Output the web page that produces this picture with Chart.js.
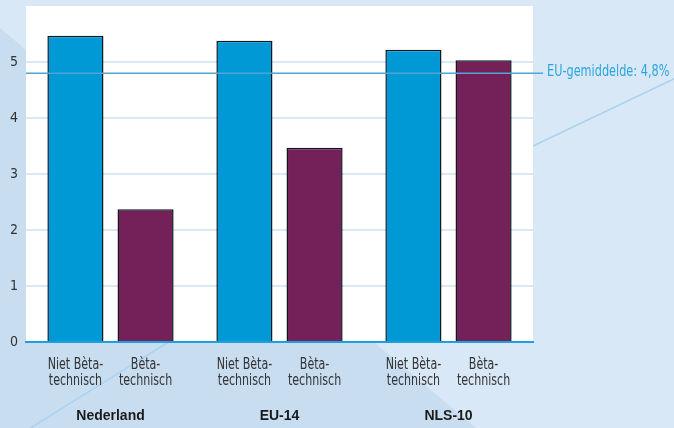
<!DOCTYPE html>
<html lang="nl">
<head>
  <meta charset="UTF-8" />
  <title>Bèta-technisch</title>
  <script src="https://cdn.jsdelivr.net/npm/chart.js"></script>
  <style>
    html, body { margin: 0; padding: 0; background: #d9e8f6; }
    .wrap { width: 674px; height: 428px; position: relative; }
  </style>
</head>
<body>
  <div class="wrap">
    <canvas id="grafiek"></canvas>
  </div>

  <script>
    const groepen = ["Nederland", "EU-14", "NLS-10"];
    const reeksen = ["Niet Bèta-technisch", "Bèta-technisch"];
    const nietBeta = [5.47, 5.38, 5.22];
    const beta = [2.37, 3.47, 5.03];
    const euGemiddelde = 4.8;
    const euLabel = "EU-gemiddelde: 4,8%";
    const subLabels = [["Niet Bèta-", "technisch"], ["Bèta-", "technisch"]];

    const smal = "'DejaVu Sans Condensed', 'Liberation Sans', sans-serif";
    Chart.defaults.font.family = smal;
    Chart.defaults.color = "#333333";

    // smalle tekst: horizontaal iets samengedrukt
    function smalleTekst(ctx, txt, x, y, sx) {
      ctx.save();
      ctx.translate(x, y);
      ctx.scale(sx, 1);
      ctx.fillText(txt, 0, 0);
      ctx.restore();
    }

    // achtergrond, lijn EU-gemiddelde en labels onder de staven
    const decor = {
      id: "decor",
      beforeDraw(chart) {
        const ctx = chart.ctx, a = chart.chartArea;
        ctx.save();
        ctx.fillStyle = "#d9e8f6";
        ctx.fillRect(0, 0, chart.width, chart.height);
        ctx.fillStyle = "#c9ddf1";
        ctx.beginPath();
        ctx.moveTo(0, 28);
        ctx.lineTo(476, 428);
        ctx.lineTo(0, 428);
        ctx.closePath();
        ctx.fill();
        ctx.strokeStyle = "#a9d3ef";
        ctx.lineWidth = 1.5;
        ctx.beginPath();
        ctx.moveTo(24, 432);
        ctx.lineTo(175, 338);
        ctx.moveTo(a.right, 146);
        ctx.lineTo(676, 78);
        ctx.stroke();
        ctx.fillStyle = "#ffffff";
        ctx.fillRect(a.left, a.top, a.right - a.left, a.bottom - a.top);
        ctx.restore();
      },
      afterDatasetsDraw(chart) {
        const ctx = chart.ctx, a = chart.chartArea;
        const y = chart.scales.y.getPixelForValue(euGemiddelde);
        ctx.save();
        ctx.strokeStyle = "#4ea6d4";
        ctx.lineWidth = 1.5;
        ctx.beginPath();
        ctx.moveTo(a.left, y);
        ctx.lineTo(a.right + 10, y);
        ctx.stroke();
        ctx.fillStyle = "#2aa5df";
        ctx.font = "15.5px " + smal;
        ctx.textAlign = "left";
        ctx.textBaseline = "alphabetic";
        smalleTekst(ctx, euLabel, a.right + 14, y + 2.5, 0.81);

        ctx.fillStyle = "#333333";
        ctx.font = "15px " + smal;
        ctx.textAlign = "center";
        reeksen.forEach((r, i) => {
          chart.getDatasetMeta(i).data.forEach(bar => {
            smalleTekst(ctx, subLabels[i][0], bar.x, a.bottom + 27, 0.82);
            smalleTekst(ctx, subLabels[i][1], bar.x, a.bottom + 43, 0.82);
          });
        });
        ctx.restore();
      }
    };

    new Chart(document.getElementById("grafiek"), {
      type: "bar",
      data: {
        labels: groepen,
        datasets: [
          { label: reeksen[0], data: nietBeta, backgroundColor: "#0099d6" },
          { label: reeksen[1], data: beta, backgroundColor: "#74215a" }
        ]
      },
      options: {
        responsive: true,
        maintainAspectRatio: false,
        animation: false,
        layout: { padding: { top: 6, right: 141, left: 0, bottom: 0 } },
        datasets: {
          bar: {
            categoryPercentage: 0.83,
            barPercentage: 0.8,
            borderColor: "#0d1820",
            borderWidth: 1.5
          }
        },
        plugins: {
          legend: { display: false },
          tooltip: { enabled: false }
        },
        scales: {
          x: {
            grid: { display: false, drawTicks: false },
            border: { color: "#1ea0dc", width: 2 },
            ticks: {
              padding: 66,
              color: "#1a1a1a",
              font: { family: "'Liberation Sans', Arial, sans-serif", size: 14, weight: "bold" }
            },
            afterFit(s) { s.height = 86; s.paddingLeft = 0; s.paddingRight = 0; }
          },
          y: {
            min: 0,
            max: 6,
            border: { display: false },
            grid: {
              drawTicks: false,
              lineWidth: 2,
              color: c => (c.tick.value === 0 || c.tick.value === 6) ? "rgba(0,0,0,0)" : "#d9e8f5"
            },
            ticks: {
              stepSize: 1,
              padding: 8,
              font: { size: 14 },
              callback: v => v === 6 ? "" : v
            },
            afterFit(s) { s.width = 26; s.paddingTop = 0; s.paddingBottom = 0; }
          }
        }
      },
      plugins: [decor]
    });
  </script>
</body>
</html>
